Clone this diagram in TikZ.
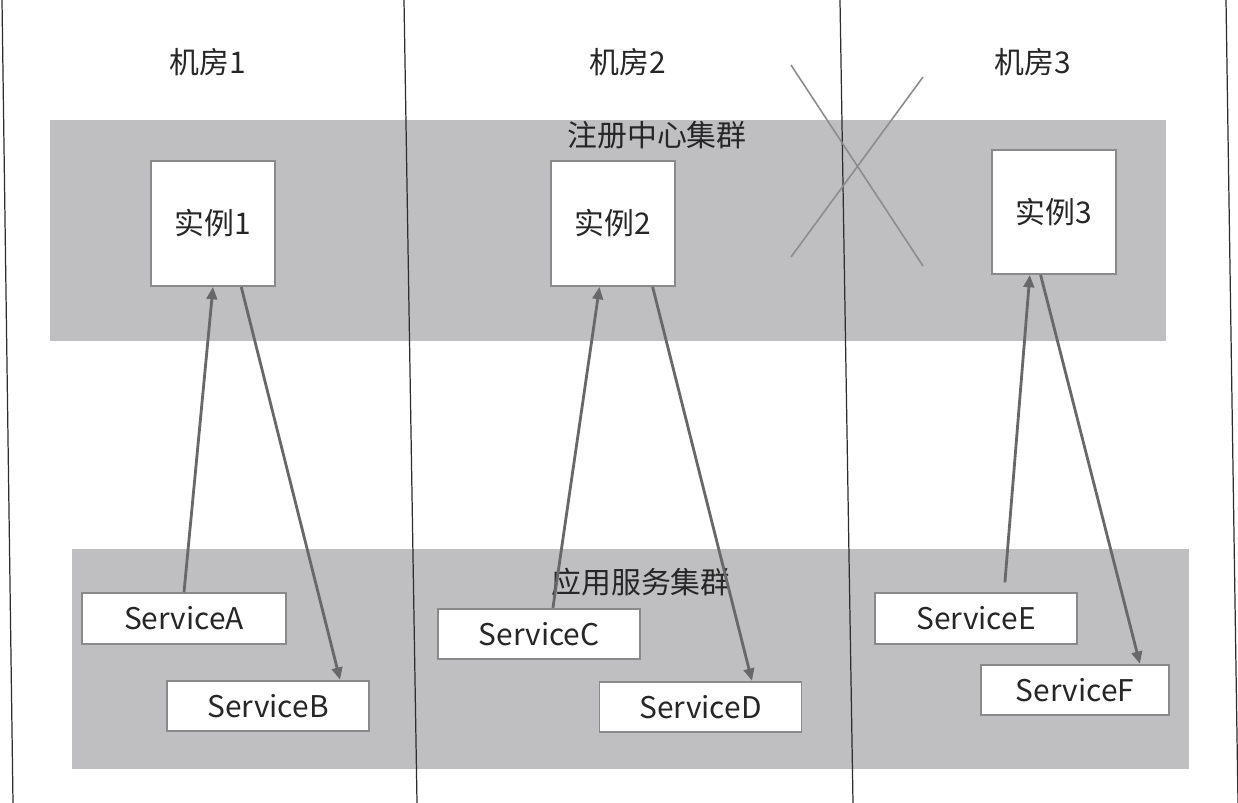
\documentclass[tikz,border=0pt]{standalone}
\usepackage{fontspec}
\setmainfont{Noto Sans CJK SC}
\usetikzlibrary{arrows.meta,calc}
\definecolor{bandgray}{RGB}{191,190,192}
\definecolor{framegray}{RGB}{138,138,138}
\definecolor{callgray}{RGB}{104,104,104}
\definecolor{wallgray}{RGB}{45,45,45}
\definecolor{cutgray}{RGB}{140,140,140}
\definecolor{inkgray}{RGB}{38,38,38}

\begin{document}
\begin{tikzpicture}[
  x=0.02cm,y=-0.02cm,
  >={Triangle[length=7pt,width=6pt]},
  label17/.style={font=\fontsize{17}{20}\selectfont,text=inkgray,inner sep=0pt},
  regbox/.style={label17,draw=framegray,fill=white,line width=1.1pt,
                 minimum width=2.48cm,minimum height=2.5cm},
  svcbox/.style={label17,draw=framegray,fill=white,line width=1.1pt,
                 minimum height=1.01cm},
  wall/.style={wallgray,line width=0.7pt},
  cut/.style={cutgray,line width=0.9pt},
  call/.style={callgray,line width=1.6pt,->}
]
\useasboundingbox (0,0) rectangle (1238,803);
% the two clusters run across all rooms
\fill[bandgray] (50,120) rectangle (1166,341);
\fill[bandgray] (72,549) rectangle (1189,769);
\node[label17] (regname) at (657,135) {注册中心集群};
\node[label17] (appname) at (641,582) {应用服务集群};

% room walls
\draw[wall] (2,0) -- (13,803);
\draw[wall] (404,0) -- (417,803);
\draw[wall] (840,0) -- (853,803);
\draw[wall] (1226,0) -- (1238,803);
\node[label17] (room1) at (208,62) {机房1};
\node[label17] (room2) at (628,62) {机房2};
\node[label17] (room3) at (1033,62) {机房3};

% room 3 registry is down
\draw[cut] (791,65) -- (923,266) (791,257) -- (923,77);

\node[regbox] (inst1) at (213,223.5) {实例1};
\node[regbox] (inst2) at (613,223.5) {实例2};
\node[regbox,minimum height=2.48cm] (inst3) at (1054,212) {实例3};

\node[svcbox,minimum width=4.08cm] (svcA) at (184,618.5) {ServiceA};
\node[svcbox,minimum width=4.04cm] (svcB) at (268,706) {ServiceB};
\node[svcbox,minimum width=4.04cm] (svcC) at (539,634) {ServiceC};
\node[svcbox,minimum width=4.04cm] (svcD) at (700.5,707) {ServiceD};
\node[svcbox,minimum width=4.04cm] (svcE) at (976,618.5) {ServiceE};
\node[svcbox,minimum width=3.76cm] (svcF) at (1075,690) {ServiceF};

% register up, subscribe down
\draw[call] (svcA.north) -- (inst1.south);
\draw[call] (inst1.-66) -- (svcB.20);
\draw[call] (svcC.62) -- (inst2.-102);
\draw[call] (inst2.-58) -- (svcD.27);
\draw[call,shorten <=0.2cm] (svcE.43) -- (inst3.-111);
\draw[call] (inst3.-102) -- (svcF.22);
\end{tikzpicture}
\end{document}
